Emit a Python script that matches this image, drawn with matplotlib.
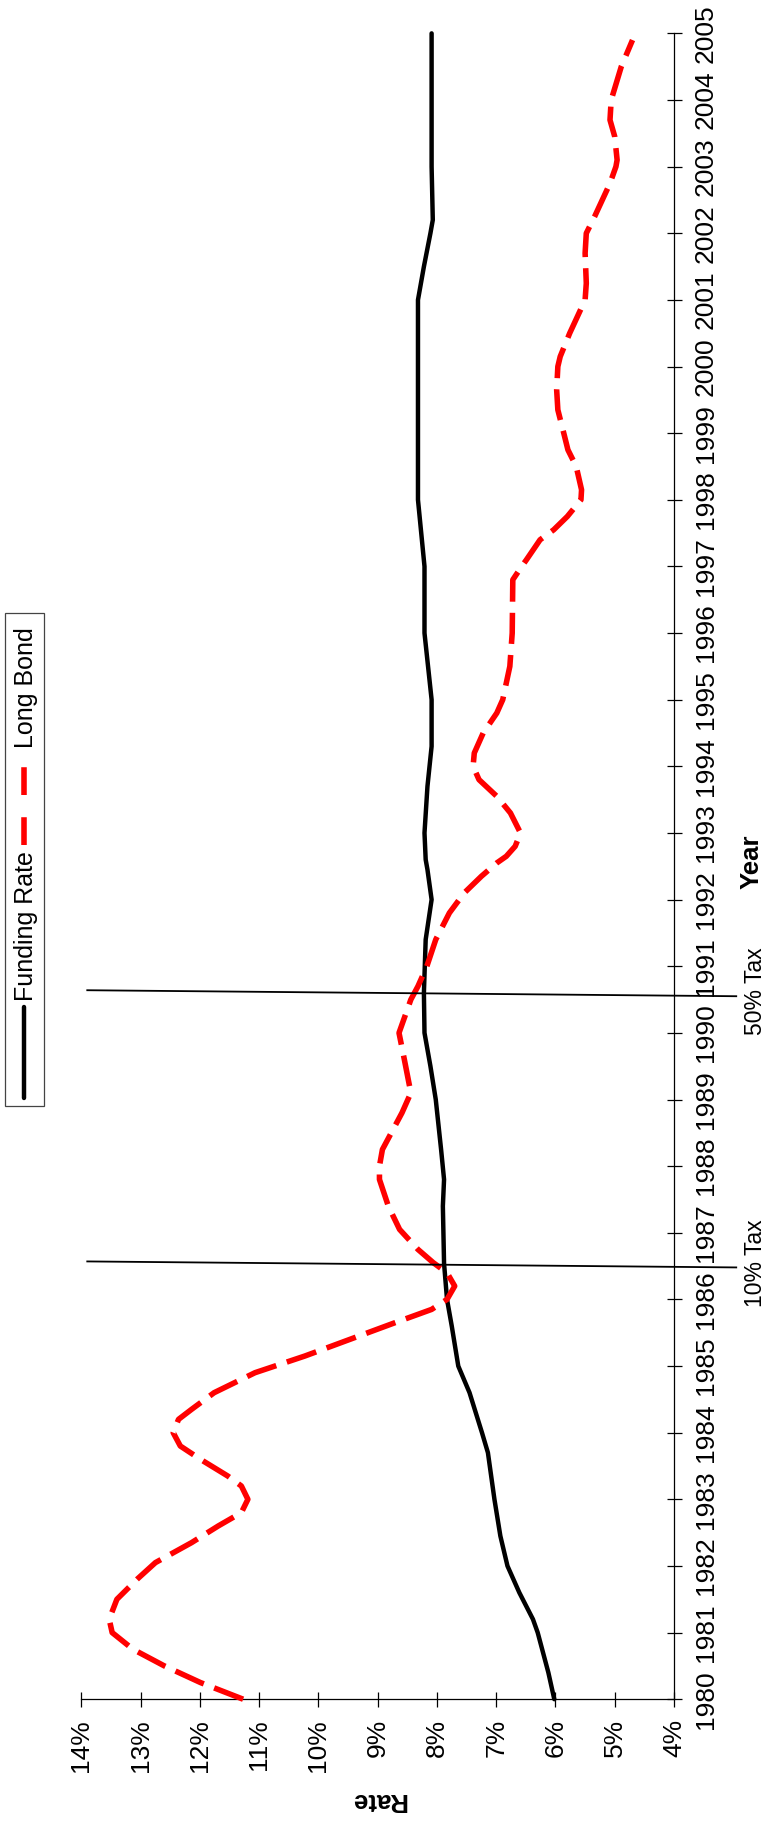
import matplotlib
matplotlib.use("Agg")
import matplotlib.pyplot as plt
from matplotlib.patches import Rectangle
from matplotlib.lines import Line2D

plt.rcParams['font.family'] = ['Liberation Sans', 'DejaVu Sans']

# Funding rate (%) against year
funding_years = [1980.0, 1980.4, 1981.0, 1981.2, 1981.6, 1982.0, 1982.45, 1983.0, 1983.7,
                 1984.0, 1984.6, 1985.0, 1985.6, 1986.0, 1986.54, 1987.4, 1987.8, 1988.25,
                 1989.0, 1989.5, 1990.0, 1990.6, 1991.4, 1992.0, 1992.45, 1992.6, 1993.0,
                 1993.7, 1994.3, 1995.0, 1996.0, 1996.8, 1997.0, 1998.0, 2000.0, 2001.0,
                 2001.5, 2002.0, 2002.2, 2003.0, 2005.0]
funding_rate = [6.02, 6.12, 6.30, 6.38, 6.61, 6.81, 6.93, 7.03, 7.14,
                7.24, 7.45, 7.64, 7.75, 7.83, 7.88, 7.90, 7.88, 7.93,
                8.02, 8.11, 8.21, 8.22, 8.19, 8.09, 8.16, 8.19, 8.21,
                8.16, 8.09, 8.09, 8.21, 8.21, 8.21, 8.32, 8.32, 8.32,
                8.22, 8.11, 8.07, 8.09, 8.09]

# Long bond yield (%) against year
bond_years = [1980.0, 1980.25, 1980.5, 1980.75, 1981.0, 1981.2, 1981.5, 1981.8, 1982.05,
              1982.35, 1982.6, 1982.8, 1983.0, 1983.2, 1983.35, 1983.6, 1983.8, 1984.0,
              1984.2, 1984.35, 1984.6, 1984.9, 1985.15, 1985.4, 1985.65, 1985.85, 1986.0,
              1986.2, 1986.4, 1986.55, 1986.75, 1987.05, 1987.4, 1987.8, 1988.0, 1988.25,
              1988.8, 1989.1, 1989.6, 1990.0, 1990.5, 1990.7, 1991.0, 1991.4, 1991.8,
              1992.1, 1992.35, 1992.55, 1992.65, 1992.8, 1993.0, 1993.3, 1993.55, 1993.8,
              1994.0, 1994.2, 1994.5, 1994.8, 1995.0, 1995.5, 1996.0, 1996.8, 1997.0,
              1997.1, 1997.4, 1997.55, 1997.75, 1998.0, 1998.15, 1998.5, 1998.75, 1999.0,
              1999.35, 1999.65, 2000.0, 2000.15, 2000.5, 2001.0, 2001.25, 2001.7, 2002.0,
              2002.25, 2002.5, 2002.75, 2003.0, 2003.1, 2003.45, 2003.7, 2004.0, 2004.5,
              2004.9]
bond_rate = [11.27, 11.99, 12.60, 13.13, 13.48, 13.53, 13.40, 13.06, 12.75,
             12.14, 11.69, 11.30, 11.19, 11.30, 11.53, 11.99, 12.33, 12.45,
             12.36, 12.14, 11.76, 11.07, 10.23, 9.47, 8.71, 8.09, 7.83,
             7.70, 7.83, 8.06, 8.32, 8.63, 8.82, 8.97, 8.97, 8.92,
             8.59, 8.44, 8.55, 8.64, 8.44, 8.32, 8.17, 8.02, 7.79,
             7.54, 7.25, 6.99, 6.83, 6.68, 6.59, 6.76, 6.99, 7.29,
             7.39, 7.37, 7.22, 6.99, 6.89, 6.77, 6.73, 6.72, 6.57,
             6.49, 6.26, 6.03, 5.80, 5.57, 5.56, 5.65, 5.79, 5.86,
             5.96, 5.98, 5.96, 5.92, 5.76, 5.50, 5.48, 5.50, 5.48,
             5.34, 5.21, 5.08, 4.98, 4.96, 5.00, 5.08, 5.06, 4.89,
             4.70]

# Tax change markers
tax_labels = ['10% Tax', '50% Tax']
tax_years = [1986.5, 1990.57]

year_ticks = list(range(1980, 2006))
rate_ticks = list(range(4, 15))

fig = plt.figure(figsize=(7.71, 18.23), dpi=100)
ax = fig.add_axes([0.1055, 0.0679, 0.7687, 0.9138])

ax.plot(funding_rate, funding_years, color='black', lw=3.2, solid_capstyle='round',
        solid_joinstyle='round', clip_on=False, zorder=3)
ax.plot(bond_rate, bond_years, color='#ff0000', lw=4.0, dashes=(5.6, 2.0),
        dash_capstyle='butt', clip_on=False, zorder=3)

for yr, lab in zip(tax_years, tax_labels):
    ax.plot([13.9, 2.95], [yr + 0.07, yr - 0.02], color='black', lw=1.3,
            clip_on=False, zorder=4)
    ax.text(2.63, yr + 0.05, lab, rotation=90, ha='center', va='center',
            fontsize=16.5, clip_on=False)

ax.set_xlim(14, 4)
ax.set_ylim(1980, 2005)
ax.set_xticks(rate_ticks)
ax.set_xticklabels(['{}%'.format(r) for r in rate_ticks], rotation=90)
ax.set_yticks(year_ticks)
ax.set_yticklabels([str(y) for y in year_ticks], rotation=90, va='center')
ax.yaxis.tick_right()

for side in ['left', 'top']:
    ax.spines[side].set_visible(False)
for side in ['bottom', 'right']:
    ax.spines[side].set_linewidth(0.9)
ax.tick_params(axis='both', direction='inout', length=10.8, width=0.9,
               labelsize=19, pad=9)

fig.text(0.490, 0.0125, 'Rate', rotation=180, ha='center', va='center',
         fontsize=18.5, fontweight='bold')
fig.text(0.9754, 0.5272, 'Year', rotation=90, ha='center', va='center',
         fontsize=18.5, fontweight='bold')

# legend box, drawn rotated like the rest of the chart
fig.patches.append(Rectangle((0.0061, 0.3933), 0.0514, 0.2704, transform=fig.transFigure,
                             fill=False, edgecolor='#444444', lw=0.9))
fig.lines.append(Line2D([0.0311, 0.0311], [0.3977, 0.4476], transform=fig.transFigure,
                        color='black', lw=3.2, solid_capstyle='round'))
fig.lines.append(Line2D([0.0311, 0.0311], [0.5364, 0.5858], transform=fig.transFigure,
                        color='#ff0000', lw=4.0, dashes=(5.0, 4.0)))
fig.text(0.0337, 0.492, 'Funding Rate', rotation=90, ha='center', va='center', fontsize=18)
fig.text(0.0337, 0.6229, 'Long Bond', rotation=90, ha='center', va='center', fontsize=18)

fig.savefig('out.png', dpi=100)
